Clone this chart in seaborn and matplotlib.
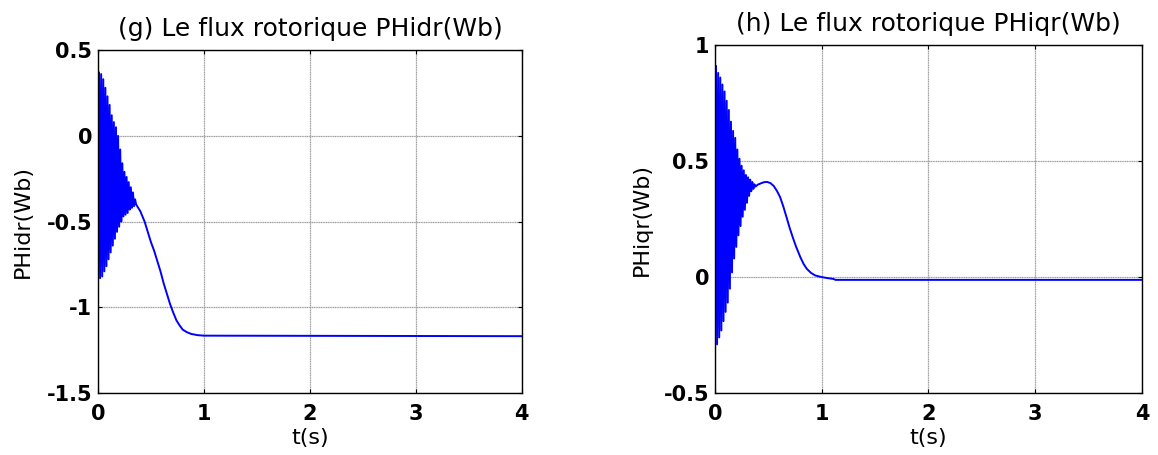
import numpy as np
import pandas as pd
import seaborn as sns
import matplotlib
matplotlib.use("Agg")
import matplotlib.pyplot as plt

# (g) PHidr : oscillating start (50 Hz extrema), then smooth settling
t_g_hi = [0.01, 0.03, 0.05, 0.07, 0.09, 0.11, 0.13, 0.15, 0.17, 0.19,
          0.21, 0.23, 0.25, 0.27, 0.29, 0.31, 0.33, 0.35]
y_g_hi = [0.37, 0.36, 0.33, 0.28, 0.23, 0.18, 0.12, 0.08, 0.05, 0.0,
          -0.08, -0.16, -0.21, -0.24, -0.27, -0.30, -0.33, -0.37]
t_g_lo = [0.02, 0.04, 0.06, 0.08, 0.10, 0.12, 0.14, 0.16, 0.18, 0.20,
          0.22, 0.24, 0.26, 0.28, 0.30, 0.32, 0.34, 0.36]
y_g_lo = [-0.83, -0.82, -0.79, -0.76, -0.72, -0.68, -0.64, -0.60, -0.56, -0.53,
          -0.50, -0.47, -0.46, -0.45, -0.43, -0.42, -0.41, -0.40]
t_g_smooth = [0.38, 0.40, 0.42, 0.44, 0.46, 0.48, 0.50, 0.53, 0.56, 0.59, 0.62,
              0.65, 0.68, 0.71, 0.74, 0.77, 0.80, 0.84, 0.88, 0.94, 1.0, 4.0]
y_g_smooth = [-0.42, -0.44, -0.47, -0.50, -0.54, -0.58, -0.62, -0.67, -0.73, -0.79, -0.86,
              -0.92, -0.98, -1.03, -1.075, -1.105, -1.13, -1.145, -1.155, -1.162, -1.165, -1.168]
y_g_start = -0.2

# (h) PHiqr
t_h_hi = [0.01, 0.03, 0.05, 0.07, 0.09, 0.11, 0.13, 0.15, 0.17, 0.19,
          0.21, 0.23, 0.25, 0.27, 0.29, 0.31, 0.33, 0.35, 0.37]
y_h_hi = [0.91, 0.88, 0.86, 0.83, 0.80, 0.76, 0.72, 0.67, 0.63, 0.60,
          0.55, 0.51, 0.48, 0.46, 0.44, 0.43, 0.42, 0.41, 0.40]
t_h_lo = [0.02, 0.04, 0.06, 0.08, 0.10, 0.12, 0.14, 0.16, 0.18, 0.20,
          0.22, 0.24, 0.26, 0.28, 0.30, 0.32, 0.34, 0.36, 0.38]
y_h_lo = [-0.29, -0.26, -0.23, -0.19, -0.15, -0.11, -0.05, 0.02, 0.08, 0.13,
          0.18, 0.22, 0.26, 0.29, 0.32, 0.35, 0.37, 0.38, 0.39]
t_h_smooth = [0.40, 0.43, 0.46, 0.49, 0.52, 0.55, 0.58, 0.61, 0.64, 0.67, 0.70, 0.73,
              0.76, 0.80, 0.83, 0.86, 0.90, 0.94, 1.0, 1.05, 1.11, 1.13, 4.0]
y_h_smooth = [0.398, 0.404, 0.409, 0.41, 0.405, 0.393, 0.372, 0.345, 0.305, 0.259, 0.212, 0.170,
              0.131, 0.086, 0.057, 0.036, 0.018, 0.007, 0.0, -0.004, -0.008, -0.012, -0.012]
y_h_start = 0.27

titles = ["(g) Le flux rotorique PHidr(Wb)", "(h) Le flux rotorique PHiqr(Wb)"]
ylabels = ["PHidr(Wb)", "PHiqr(Wb)"]
xticks = [0, 1, 2, 3, 4]
yticks_g = [-1.5, -1, -0.5, 0, 0.5]
yticks_h = [-0.5, 0, 0.5, 1]


def build(y0, t_hi, y_hi, t_lo, y_lo, t_s, y_s):
    t = [0.0]
    y = [y0]
    pairs = sorted(list(zip(t_hi, y_hi)) + list(zip(t_lo, y_lo)))
    for a, b in pairs:
        t.append(a)
        y.append(b)
    t += t_s
    y += y_s
    return pd.DataFrame({"t": t, "v": y})


sns.set_style("white")
plt.rcParams["font.family"] = ["DejaVu Sans"]
plt.rcParams["text.color"] = "black"
plt.rcParams["axes.labelcolor"] = "black"
plt.rcParams["xtick.color"] = "black"
plt.rcParams["ytick.color"] = "black"

fig = plt.figure(figsize=(11.58, 4.55), dpi=100)
ax1 = fig.add_axes([0.0846, 0.136, 0.366, 0.754])
ax2 = fig.add_axes([0.6174, 0.136, 0.3687, 0.765])

df_g = build(y_g_start, t_g_hi, y_g_hi, t_g_lo, y_g_lo, t_g_smooth, y_g_smooth)
df_h = build(y_h_start, t_h_hi, y_h_hi, t_h_lo, y_h_lo, t_h_smooth, y_h_smooth)

for ax, df, title, ylab, yt, lx in [(ax1, df_g, titles[0], ylabels[0], yticks_g, -0.153),
                                    (ax2, df_h, titles[1], ylabels[1], yticks_h, -0.148)]:
    sns.lineplot(data=df, x="t", y="v", ax=ax, sort=False, estimator=None,
                 color="#0000ff", linewidth=1.4)
    ax.set_xlim(0, 4)
    ax.set_ylim(yt[0], yt[-1])
    ax.set_xticks(xticks)
    ax.set_yticks(yt)
    ax.set_xticklabels(["%g" % v for v in xticks], fontweight="bold", fontsize=15)
    ax.set_yticklabels(["%g" % v for v in yt], fontweight="bold", fontsize=15)
    ax.grid(True, color="#a0a0a0", linestyle=(0, (1, 0.4)), linewidth=0.9)
    ax.tick_params(direction="in", length=3, width=0.8, top=True, right=True,
                   bottom=True, left=True, colors="black")
    ax.tick_params(axis="y", pad=4)
    ax.tick_params(axis="x", pad=8)
    for sp in ax.spines.values():
        sp.set_visible(True)
        sp.set_color("black")
        sp.set_linewidth(1.0)
    ax.set_title(title, fontsize=18, pad=10, color="black")
    ax.set_xlabel("t(s)", fontsize=16, labelpad=3)
    ax.set_ylabel(ylab, fontsize=16)
    ax.yaxis.set_label_coords(lx, 0.5)

fig.savefig("out.png", dpi=100)
